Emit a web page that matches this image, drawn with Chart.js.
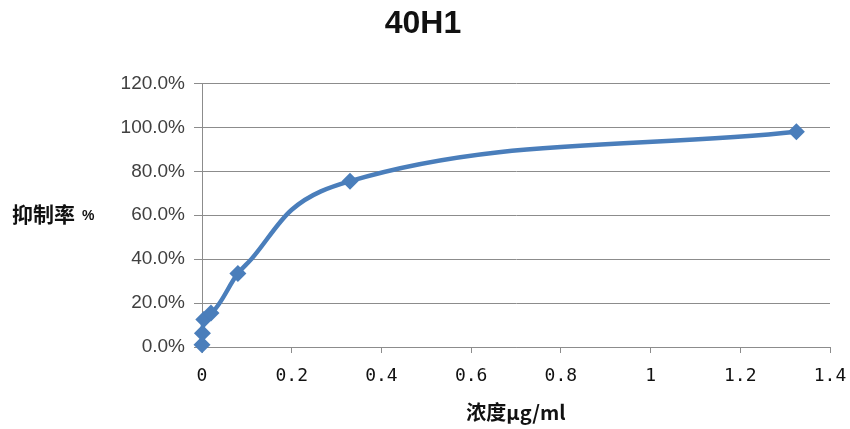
<!DOCTYPE html>
<html>
<head>
<meta charset="utf-8">
<script src="https://cdn.jsdelivr.net/npm/chart.js@4/dist/chart.umd.min.js"></script>
<style>
    html, body { margin: 0; padding: 0; background: #fff; }
    #wrap { width: 850px; height: 429px; }
</style>
</head>
<body>
<div id="wrap"><canvas id="chart"></canvas></div>
<script>
const TITLE   = '40H1';
const X_TITLE = '浓度μg/ml';
const Y_TITLE = '抑制率';

// concentration (µg/ml) vs inhibition (%)
const concentration = [0, 0.001, 0.004, 0.02, 0.08, 0.11, 0.2, 0.33, 1.325];
const inhibition    = [1.0, 6.3, 12.5, 15.5, 33.5, 40.0, 62.5, 75.5, 98.0];
const hasMarker     = [true, true, true, true, true, false, false, true, true];

const LINE_BLUE = '#4a7ebb';
const GRID_GRAY = '#8c8c8c';

// y-axis title is horizontal in the reference, so draw it by hand
const yTitlePlugin = {
    id: 'yTitle',
    afterDraw(chart) {
        const ctx = chart.ctx;
        const y = chart.scales.y.getPixelForValue(60);
        ctx.save();
        ctx.fillStyle = '#111';
        ctx.textBaseline = 'middle';
        ctx.textAlign = 'left';
        ctx.font = 'bold 21px "Noto Sans CJK SC"';
        ctx.fillText(Y_TITLE, 12, y - 1);
        const w = ctx.measureText(Y_TITLE).width;
        ctx.font = 'bold 14px "Liberation Sans"';
        ctx.fillText('%', 12 + w + 7, y + 1);
        ctx.restore();
    }
};

new Chart(document.getElementById('chart'), {
    type: 'line',
    data: {
        datasets: [{
            label: TITLE,
            data: concentration.map((x, i) => ({ x, y: inhibition[i] })),
            borderColor: LINE_BLUE,
            backgroundColor: LINE_BLUE,
            borderWidth: 4.5,
            cubicInterpolationMode: 'monotone',
            pointStyle: 'rectRot',
            pointRadius: hasMarker.map(m => m ? 8.5 : 0),
            pointBorderWidth: 0,
            pointBackgroundColor: LINE_BLUE,
            clip: false
        }]
    },
    options: {
        responsive: true,
        maintainAspectRatio: false,
        animation: false,
        layout: { padding: { left: 0, right: 4, top: 0, bottom: 0 } },
        plugins: {
            legend: { display: false },
            tooltip: { enabled: false },
            title: {
                display: true,
                text: TITLE,
                color: '#111',
                font: { family: '"Liberation Sans"', size: 32, weight: 'bold' },
                padding: { top: 5, bottom: 40 }
            }
        },
        scales: {
            x: {
                type: 'linear',
                min: 0,
                max: 1.4,
                border: { display: true, color: GRID_GRAY, width: 1 },
                grid: {
                    drawOnChartArea: false,
                    drawTicks: true,
                    tickLength: 6,
                    color: GRID_GRAY
                },
                ticks: {
                    stepSize: 0.2,
                    padding: 13,
                    color: '#111',
                    maxRotation: 0,
                    font: { family: '"DejaVu Sans Mono"', size: 18 },
                    callback: v => String(Math.round(v * 10) / 10)
                },
                title: {
                    display: true,
                    text: X_TITLE,
                    color: '#111',
                    font: { family: '"Noto Sans CJK SC"', size: 20, weight: 'bold' },
                    padding: { top: 0, bottom: 5 }
                },
                afterFit: s => { s.height = 82; s.paddingRight = 20; }
            },
            y: {
                min: 0,
                max: 120,
                border: { display: true, color: GRID_GRAY, width: 1 },
                grid: {
                    color: GRID_GRAY,
                    tickLength: 8,
                    drawTicks: true
                },
                ticks: {
                    stepSize: 20,
                    padding: 9,
                    color: '#404040',
                    font: { family: '"Liberation Sans"', size: 19 },
                    callback: v => v.toFixed(1) + '%'
                },
                afterFit: s => { s.width = 202; }
            }
        }
    },
    plugins: [yTitlePlugin]
});
</script>
</body>
</html>
